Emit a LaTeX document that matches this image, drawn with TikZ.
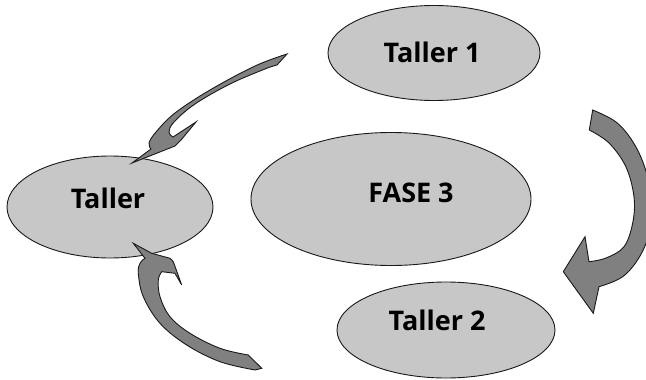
\documentclass[tikz,border=0pt]{standalone}
\usepackage{fontspec}
\setmainfont{Open Sans}
\usetikzlibrary{shapes.geometric}
\definecolor{ellfill}{RGB}{199,199,199}
\definecolor{arrfill}{RGB}{128,128,128}
\definecolor{edge}{RGB}{25,25,25}
\begin{document}
\begin{tikzpicture}[x=1pt,y=-1pt,
  ell/.style={ellipse,draw=edge,fill=ellfill,line width=0.9pt,inner sep=0pt},
  lbl/.style={anchor=base,inner sep=0pt,font=\fontsize{27}{30}\selectfont\bfseries},
  blockarrow/.style={draw=edge,fill=arrfill,line width=0.9pt,line join=miter}]
\useasboundingbox (0,0) rectangle (646,380);
\begin{scope}
\clip (0,0) rectangle (646,380);
% ellipses
\node[ell,minimum width=212pt,minimum height=95pt] (t1) at (434,53) {};
\node[ell,minimum width=280pt,minimum height=133pt] (f3) at (391,199) {};
\node[ell,minimum width=206pt,minimum height=102pt] (t0) at (110,207) {};
\node[ell,minimum width=218pt,minimum height=96pt] (t2) at (446,330) {};
% labels
\node[lbl] (l1) at (432,62) {Taller 1};
\node[lbl] (l3) at (411,202) {FASE 3};
\node[lbl] (l0) at (108,208) {Taller};
\node[lbl] (l2) at (437,330) {Taller 2};
% arrow from Taller 1 to Taller
\draw[blockarrow] plot[smooth,tension=0.6] coordinates {(287,54) (255,66) (210,90) (175,113) (156,132) (149,143) (151,149)}
  -- (132,163) -- (175,146) -- (181,140) -- (196,122) -- (173,137)
  -- plot[smooth,tension=0.6] coordinates {(173,137) (169,132) (174,122) (195,104) (230,84) (265,69) (277,65)}
  -- cycle;
% arrow from below to Taller
\draw[blockarrow] (133.3,243.3) -- (151.7,253.3) -- (170,258.3) -- (173.3,261.7) -- (181.7,285) -- (175,273.3) -- (161.7,271.7)
  -- plot[smooth,tension=0.6] coordinates {(161.7,271.7) (158.3,280) (160,296.7) (170,316.7) (190,333.3) (220,348.3) (248.3,355)}
  -- (261.7,368.3) -- (255,370)
  -- plot[smooth,tension=0.6] coordinates {(255,370) (220,361.7) (186.7,345) (160,323.3) (143.3,296.7) (138.3,273.3) (140,263.3) (145,258.3)}
  -- cycle;
% big arrow on the right, Taller 1 to Taller 2
\draw[blockarrow] plot[smooth,tension=0.6] coordinates {(592.7,110) (616,122) (633,142) (645,168) (652,200) (650,230) (640,256) (622.7,276.7) (599,286.7)}
  -- (593.3,313.3) -- (563.3,271.7) -- (585,236.7) -- (589,261.7)
  -- plot[smooth,tension=0.6] coordinates {(589,261.7) (606,258) (624,246.7) (632.7,223) (634,197) (626,167) (609,143) (589.3,130)}
  -- cycle;
\end{scope}
\end{tikzpicture}
\end{document}
